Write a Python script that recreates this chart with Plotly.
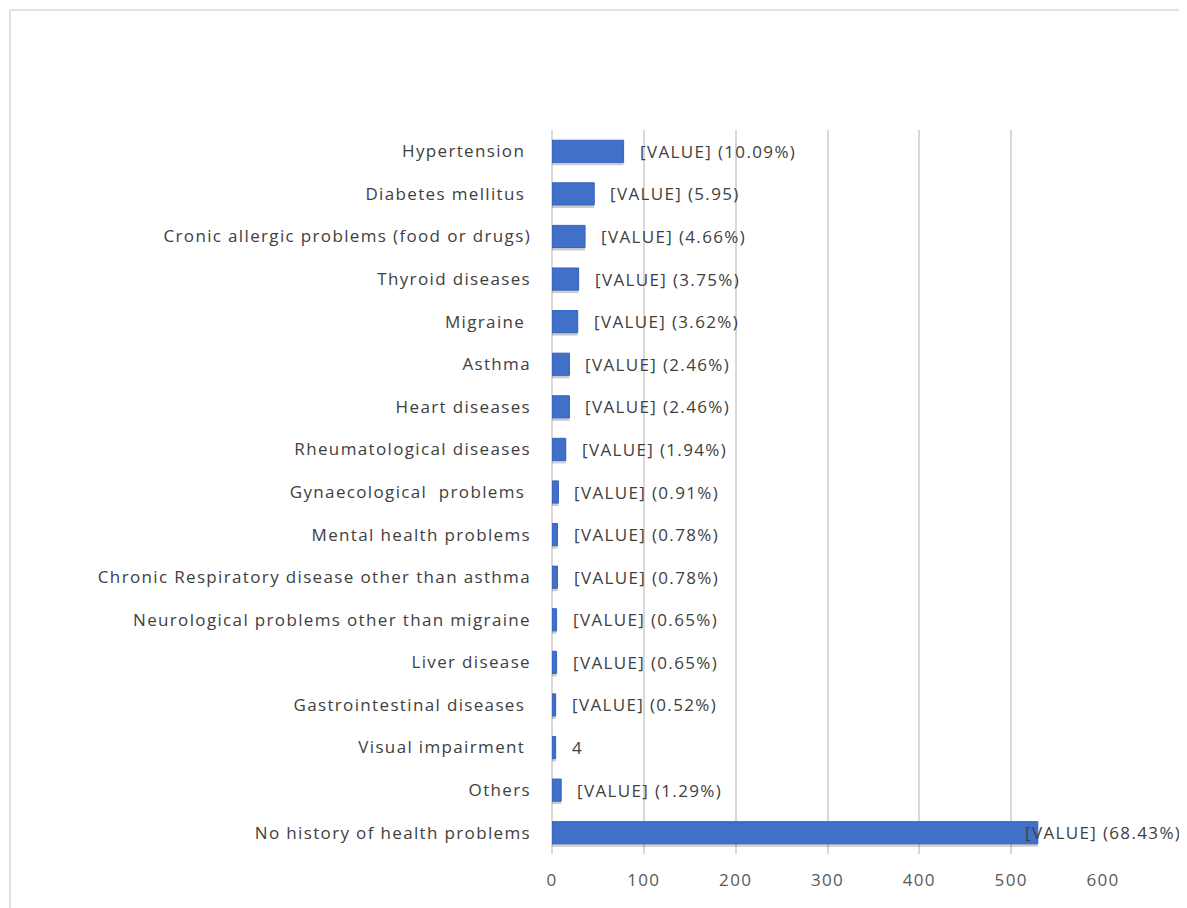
import plotly.graph_objects as go

categories = [
    "Hypertension ", "Diabetes mellitus ", "Cronic allergic problems (food or drugs)",
    "Thyroid diseases", "Migraine ", "Asthma", "Heart diseases",
    "Rheumatological diseases", "Gynaecological  problems ", "Mental health problems",
    "Chronic Respiratory disease other than asthma", "Neurological problems other than migraine",
    "Liver disease", "Gastrointestinal diseases ", "Visual impairment ", "Others",
    "No history of health problems",
]
values = [78, 46, 36, 29, 28, 19, 19, 15, 7, 6, 6, 5, 5, 4, 4, 10, 529]
labels = [
    "[VALUE] (10.09%)", "[VALUE] (5.95)", "[VALUE] (4.66%)", "[VALUE] (3.75%)",
    "[VALUE] (3.62%)", "[VALUE] (2.46%)", "[VALUE] (2.46%)", "[VALUE] (1.94%)",
    "[VALUE] (0.91%)", "[VALUE] (0.78%)", "[VALUE] (0.78%)", "[VALUE] (0.65%)",
    "[VALUE] (0.65%)", "[VALUE] (0.52%)", "4", "[VALUE] (1.29%)", "[VALUE] (68.43%)",
]
x_ticks = [0, 100, 200, 300, 400, 500, 600]

FONT = "Open Sans"

fig = go.Figure()
# soft shadow
fig.add_trace(go.Bar(
    y=categories, x=values, orientation="h", width=0.56,
    marker=dict(color="rgba(0,0,0,0.2)", line=dict(width=0)),
    hoverinfo="skip", showlegend=False, offset=-0.23,
))
fig.add_trace(go.Bar(
    y=categories, x=values, orientation="h", width=0.52,
    marker=dict(color="#4170C8", line=dict(color="#3563C0", width=1)),
    showlegend=False, offset=-0.26,
))
fig.update_layout(barmode="overlay")

for c, v, t in zip(categories, values, labels):
    last = c.startswith("No history")
    fig.add_annotation(
        x=v, y=c, text=t, showarrow=False,
        xanchor="left", xshift=-15 if last else 14,
        font=dict(family=FONT, size=17, color="#404040"),
    )

# page body has an 8px margin, so the figure is sized/offset to compensate
W, H = 1179, 900
ml, mr, mt, mb = 544, 84, 122, 54
pw, ph = W - ml - mr, H - mt - mb
fig.add_shape(
    type="rect", xref="paper", yref="paper",
    x0=(2 - ml) / pw, x1=2, y0=-2, y1=(H - mb - 2) / ph,
    line=dict(color="#d9d9d9", width=1.5), fillcolor="rgba(0,0,0,0)", layer="below",
)

fig.update_layout(
    width=W, height=H,
    margin=dict(l=ml, r=mr, t=mt, b=mb, pad=0),
    plot_bgcolor="white", paper_bgcolor="white",
    font=dict(family=FONT, size=17, color="#404040"),
    xaxis=dict(
        range=[0, 600], tickvals=x_ticks, showgrid=True, gridcolor="#d9d9d9", gridwidth=1.5,
        zeroline=True, zerolinecolor="#d9d9d9", zerolinewidth=1.5, showline=False,
        tickfont=dict(family=FONT, size=17, color="#595959"), ticks="", ticklabelstandoff=14,
    ),
    yaxis=dict(
        autorange="reversed", showgrid=False, zeroline=False, showline=False, ticks="",
        tickfont=dict(family=FONT, size=17, color="#404040"), ticklabelstandoff=20,
        categoryorder="array", categoryarray=categories,
    ),
)

post = """
var LS = 1.35;
document.querySelectorAll('.main-svg text').forEach(function(t){
  t.style.letterSpacing = LS + 'px';
  if (t.closest('.annotation')) {
    var x = parseFloat(t.getAttribute('x')) || 0;
    t.setAttribute('x', x + t.textContent.length * LS / 2);
  }
});
"""
fig.write_html("out.html", post_script=post)
